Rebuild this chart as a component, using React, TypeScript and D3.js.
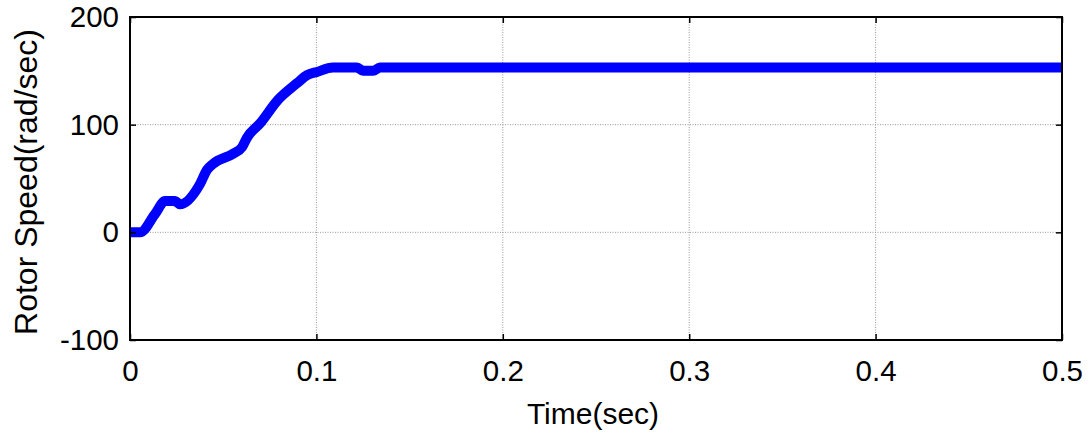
import * as d3 from "d3";
import { useEffect, useRef } from "react";

// rotor speed response
const timeSec = [0, 0.0054, 0.0134, 0.0188, 0.0241, 0.0268, 0.0376, 0.0413, 0.0445, 0.0553, 0.0601, 0.0628, 0.0697, 0.0794, 0.0896, 0.095, 0.1003, 0.1089, 0.1218, 0.125, 0.1304, 0.1341, 0.5];
const rotorSpeed = [0, 0, 17, 29, 29, 26, 45, 58, 63.5, 73, 79, 88, 101, 123, 138.5, 146, 149, 153, 153, 150, 150, 153, 153];

const xTicks = [0, 0.1, 0.2, 0.3, 0.4, 0.5];
const yTicks = [-100, 0, 100, 200];
const xTitle = "Time(sec)";
const yTitle = "Rotor Speed(rad/sec)";

const App = () => {
    const ref = useRef<SVGSVGElement>(null);

    useEffect(() => {
        const svg = d3.select(ref.current);
        svg.selectAll("*").remove();

        const width = 1090;
        const height = 436;
        const left = 130, right = 1062, top = 17, bottom = 340;
        const font = "Arial, 'Liberation Sans', sans-serif";

        const x = d3.scaleLinear().domain([0, 0.5]).range([left, right]);
        const y = d3.scaleLinear().domain([-100, 200]).range([bottom, top]);

        svg.append("rect").attr("width", width).attr("height", height).attr("fill", "#fff");

        // dotted grid, only inner lines
        const grid = svg.append("g").attr("stroke", "#999").attr("stroke-width", 1).attr("stroke-dasharray", "1,1.5");
        grid.selectAll("line.gx")
            .data(xTicks.filter((d) => d > 0 && d < 0.5))
            .enter()
            .append("line")
            .attr("x1", (d) => x(d)).attr("x2", (d) => x(d))
            .attr("y1", top).attr("y2", bottom);
        grid.selectAll("line.gy")
            .data(yTicks.filter((d) => d > -100 && d < 200))
            .enter()
            .append("line")
            .attr("x1", left).attr("x2", right)
            .attr("y1", (d) => y(d)).attr("y2", (d) => y(d));

        // the data line
        const line = d3.line<number>()
            .x((d, i) => x(timeSec[i]))
            .y((d) => y(d))
            .curve(d3.curveMonotoneX);
        svg.append("path")
            .datum(rotorSpeed)
            .attr("d", line)
            .attr("fill", "none")
            .attr("stroke", "#0000ff")
            .attr("stroke-width", 10)
            .attr("stroke-linejoin", "round")
            .attr("stroke-linecap", "butt");

        // axes with inward ticks on all four sides
        const tickLen = 6;
        svg.append("g").attr("transform", `translate(0,${bottom})`)
            .call(d3.axisBottom(x).tickValues(xTicks).tickSize(-tickLen).tickFormat((d) => `${d}`).tickPadding(20))
            .call((g) => g.select(".domain").remove());
        svg.append("g").attr("transform", `translate(0,${top})`)
            .call(d3.axisTop(x).tickValues(xTicks).tickSize(-tickLen).tickFormat(() => ""))
            .call((g) => g.select(".domain").remove());
        svg.append("g").attr("transform", `translate(${left},0)`)
            .call(d3.axisLeft(y).tickValues(yTicks).tickSize(-tickLen).tickFormat((d) => `${d}`).tickPadding(11))
            .call((g) => g.select(".domain").remove());
        svg.append("g").attr("transform", `translate(${right},0)`)
            .call(d3.axisRight(y).tickValues(yTicks).tickSize(-tickLen).tickFormat(() => ""))
            .call((g) => g.select(".domain").remove());

        svg.selectAll(".tick line").attr("stroke", "#000").attr("stroke-width", 1.5);
        svg.selectAll(".tick text")
            .attr("fill", "#000")
            .style("font-family", font)
            .style("font-size", "29.5px");

        svg.append("rect")
            .attr("x", left).attr("y", top)
            .attr("width", right - left).attr("height", bottom - top)
            .attr("fill", "none").attr("stroke", "#000").attr("stroke-width", 2);

        svg.append("text")
            .attr("x", 593)
            .attr("y", 424)
            .attr("text-anchor", "middle")
            .style("font-family", font)
            .style("font-size", "30px")
            .text(xTitle);

        svg.append("text")
            .attr("transform", `translate(37,182) rotate(-90)`)
            .attr("text-anchor", "middle")
            .style("font-family", font)
            .style("font-size", "32px")
            .text(yTitle);
    }, []);

    return (
        <svg ref={ref} width={1090} height={436} style={{ position: "absolute", left: 0, top: 0 }} />
    );
};

export default App;
